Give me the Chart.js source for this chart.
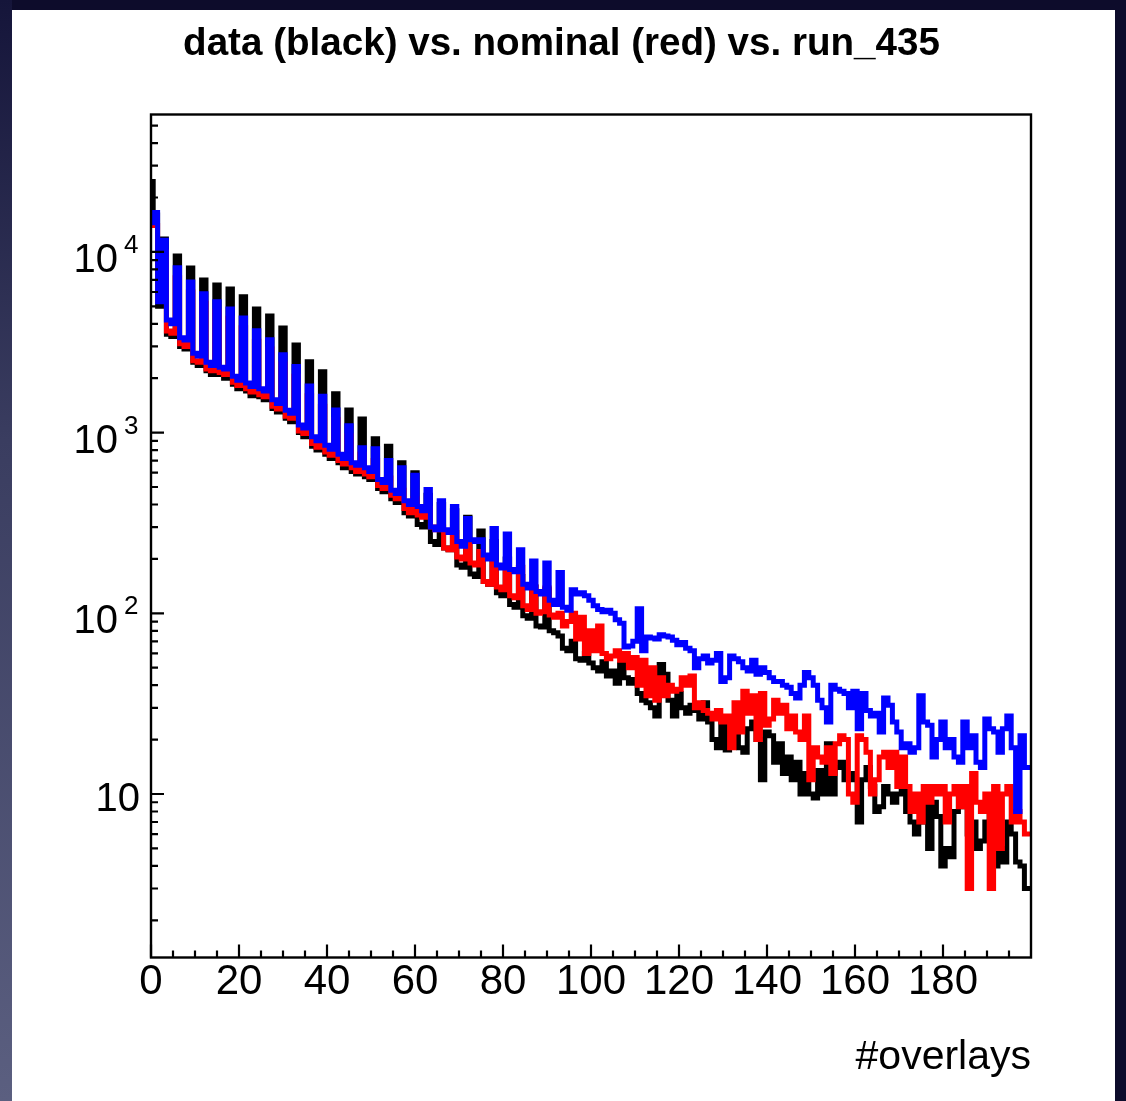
<!DOCTYPE html>
<html><head><meta charset="utf-8">
<script src="https://cdn.jsdelivr.net/npm/chart.js@4/dist/chart.umd.min.js"></script>
<style>
html,body{margin:0;padding:0;}
body{width:1126px;height:1101px;position:relative;overflow:hidden;background:#0d0c2b;}
#leftband{position:absolute;left:0;top:0;width:12px;height:1101px;background:linear-gradient(#15153a,#3a3d60 40%,#5b5f80);}
#panel{position:absolute;left:12px;top:10px;width:1103px;height:1091px;background:#fff;}
#c{position:absolute;left:0;top:0;}
</style></head>
<body>
<div id="leftband"></div>
<div id="panel"></div>
<canvas id="c" width="1126" height="1101"></canvas>
<script>
// ---- data: 200 unit-width bins of #overlays, bin n centred at n ----
const dataBlack = [
 24500,16000,5000,11800,3500,3400,9500,3000,2900,8150,
 2450,2350,7000,2200,2100,6550,2100,2000,6240,1850,
 1750,5650,1700,1600,4830,1580,1520,4420,1360,1300,
 3790,1200,1150,3050,1000,950,2470,840,800,2170,
 760,720,1640,680,640,1335,610,590,1190,570,
 550,925,490,470,840,430,410,680,360,345,
 600,310,300,450,250,240,400,230,225,370,
 185,180,340,165,160,285,150,145,250,130,
 125,200,112,108,160,97,94,140,85,84,
 135,80,78,75,64,62,70,56,55,60,
 53,50,48,54,45,48,41,52,44,41,
 43,36,33,32,30,27,52,46,33,27,
 36,30,28,31,29,26,32,25,20,18,
 25,17.5,26,21,18,17,23,25,20,12,
 22,21,15,19,13,16,12,15,10,13,
 10,9.5,13.5,10,19,10,14,15,12,13,
 12,7,12,14,11,8,8.5,11,10,9,
 10,11,8,7,6,7,9.5,5,9,7.5,
 4,5,4.5,8,11,8.5,6,7,5,5.5,
 7,8,4,5,4.2,7,6,4.2,4,3];
const dataNominal = [
 15500,14000,5400,10000,3650,3550,7200,3100,3000,6000,
 2500,2450,5200,2250,2200,4700,2150,2100,4300,1900,
 1820,3800,1750,1680,3200,1620,1580,2900,1400,1350,
 2400,1230,1200,2050,1020,990,1600,870,830,1400,
 780,750,1180,700,670,960,640,610,760,590,
 570,700,510,490,560,450,430,480,380,360,
 430,350,340,380,300,290,300,230,225,280,
 205,200,240,190,185,220,150,145,190,140,
 135,175,125,122,180,110,105,140,100,102,
 138,98,95,100,85,90,100,72,95,60,
 80,62,85,60,56,58,62,55,60,50,
 57,40,55,35,50,33,44,35,40,37,
 38,44,40,45,30,32,29,28,26,29,
 25,27,18,32,22,37,28,35,20,36,
 24,26,33,28,31,23,27,22,20,27,
 12,18,16,15,18,13,19,21,20,10,
 9,21,20,17,10,12,16,17,14,17,
 11,16,11,8,10,7,11,9,11,10,
 11,7,10,11,8.5,11,3,13,9,8,
 10,3,11,5,10,11,7,8,7,6];
const dataRun435 = [
 14500,16500,5300,11600,4200,4000,8180,3350,3250,6810,
 2750,2650,5860,2450,2350,5300,2300,2250,4830,2050,
 1950,4310,1880,1800,3660,1750,1700,3260,1520,1450,
 2700,1330,1280,2320,1100,1060,1810,950,900,1590,
 850,810,1335,760,720,1090,680,660,825,640,
 610,815,550,530,700,480,460,640,420,400,
 580,390,370,484,300,290,420,290,280,390,
 250,235,335,255,250,255,210,200,295,185,
 178,275,175,170,225,145,138,195,132,128,
 190,118,112,168,108,104,135,128,130,125,
 118,110,105,102,104,100,92,88,65,66,
 70,106,62,74,73,72,76,75,74,71,
 67,69,64,62,50,56,58,53,55,60,
 42,44,58,56,54,50,48,55,46,50,
 47,44,42,42,40,39,36,34,40,47,
 44,40,33,30,25,40,38,37,36,30,
 37,23,36,29,27,28,22,34,31,25,
 22,18,19,17,18,35,25,24,16,20,
 25,18,20,16,15,25,18,21,15,14,
 26,23,22,17,23,27,18,8,21,14];
const xTickLabels = ['0','20','40','60','80','100','120','140','160','180'];
const xMajorTicks = [0,20,40,60,80,100,120,140,160,180];
const yMajorTicks = [10,100,1000,10000];
const yTickBase = ['10','10','10','10'];
const yTickExp = ['','2','3','4'];
const xRange = [0,200];
const yRange = [1.245,57600];
const titleText = 'data (black) vs. nominal (red) vs. run_435';
const xTitle = '#overlays';

function toSteps(vals){
  const pts = vals.map((v,n)=>({x:n-0.5, y:v}));
  pts.push({x:vals.length-0.5, y:vals[vals.length-1]});
  pts.push({x:xRange[1], y:vals[vals.length-1]});
  return pts;
}
const FONT = '"Liberation Sans", Arial, Helvetica, sans-serif';

const framePlugin = {
  id:'rootframe',
  afterDraw(chart){
    const {ctx, chartArea:{left,right,top,bottom}, scales:{x,y}} = chart;
    ctx.save();
    ctx.strokeStyle='#000'; ctx.lineWidth=2.4; ctx.lineCap='butt';
    ctx.strokeRect(left,top,right-left,bottom-top);
    ctx.lineWidth=2.2;
    ctx.beginPath();
    for(let v=xRange[0]; v<xRange[1]; v+=5){
      const px=x.getPixelForValue(v);
      const len = xMajorTicks.includes(v)?13:7;
      ctx.moveTo(px,bottom); ctx.lineTo(px,bottom-len);
    }
    for(let d=0; d<5; d++){
      for(let m=1;m<10;m++){
        const v=m*Math.pow(10,d);
        if(v<yRange[0]||v>yRange[1]) continue;
        const py=y.getPixelForValue(v);
        const len = m===1?13:7;
        ctx.moveTo(left,py); ctx.lineTo(left+len,py);
      }
    }
    ctx.stroke();
    // y tick labels (10^n with raised exponent)
    ctx.fillStyle='#000';
    ctx.textBaseline='alphabetic';
    yMajorTicks.forEach((v,i)=>{
      const py=y.getPixelForValue(v);
      if(yTickExp[i]===''){
        ctx.font='40px '+FONT; ctx.textAlign='right';
        ctx.fillText(yTickBase[i], left-11, py+17);
      } else {
        ctx.font='40px '+FONT; ctx.textAlign='right';
        ctx.fillText(yTickBase[i], left-33, py+20);
        ctx.font='26px '+FONT; ctx.textAlign='left';
        ctx.fillText(yTickExp[i], left-27, py+1);
      }
    });
    // title
    ctx.font='bold 38.6px '+FONT;
    ctx.textAlign='center';
    ctx.fillText(titleText, 561.5, 55);
    ctx.restore();
  }
};

const common = {stepped:true, pointRadius:0, borderWidth:5, fill:false, tension:0, borderJoinStyle:'miter', borderCapStyle:'butt'};
new Chart(document.getElementById('c'), {
  type:'line',
  data:{datasets:[
    Object.assign({label:'run_435', data:toSteps(dataRun435), borderColor:'#0000ff'}, common),
    Object.assign({label:'nominal', data:toSteps(dataNominal), borderColor:'#ff0000'}, common),
    Object.assign({label:'data', data:toSteps(dataBlack), borderColor:'#000000'}, common)
  ]},
  options:{
    responsive:false, animation:false, devicePixelRatio:1,
    layout:{padding:{left:0,right:95,top:114.5,bottom:0}},
    plugins:{legend:{display:false}, tooltip:{enabled:false}, title:{display:false}},
    scales:{
      x:{type:'linear', min:xRange[0], max:xRange[1],
         grid:{display:false, drawTicks:false}, border:{display:false},
         afterBuildTicks(s){ s.ticks = xMajorTicks.map(v=>({value:v})); },
         afterFit(s){ s.height = 1101-957.5; },
         ticks:{color:'#000', font:{family:FONT, size:42}, padding:0, maxRotation:0, autoSkip:false,
           callback:(v)=>xTickLabels[xMajorTicks.indexOf(v)] ?? ''},
         title:{display:true, text:xTitle, align:'end', color:'#000', font:{family:FONT, size:41}, padding:{top:0,bottom:19}}
      },
      y:{type:'logarithmic', min:yRange[0], max:yRange[1],
         grid:{display:false, drawTicks:false}, border:{display:false},
         afterBuildTicks(s){ s.ticks = yMajorTicks.map(v=>({value:v})); },
         afterFit(s){ s.width = 151; },
         ticks:{display:false}
      }
    }
  },
  plugins:[framePlugin]
});
</script>
</body></html>
